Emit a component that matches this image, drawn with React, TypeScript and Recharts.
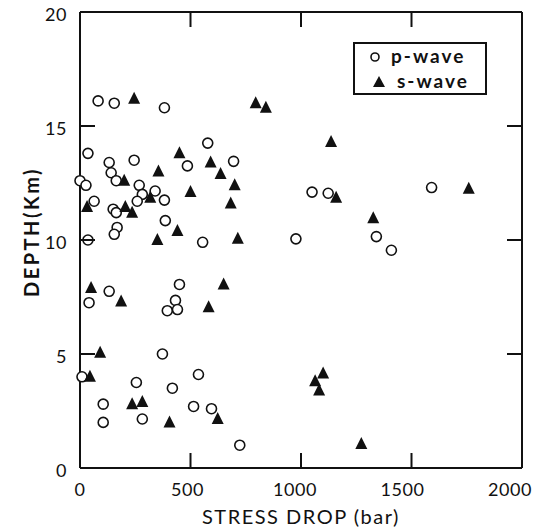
import { ScatterChart, Scatter, XAxis, YAxis, Legend, Label } from 'recharts';

// stress drop (bar) and depth (km)
const P_X = [82, 155, 382, 578, 36, 245, 132, 486, 695, 141, 0, 27, 164, 268, 282, 340, 382, 259, 64, 150, 164, 386, 168, 155, 36, 1050, 1123, 1591, 1341, 977, 1409, 555, 41, 132, 450, 432, 395, 441, 373, 9, 255, 536, 418, 105, 514, 595, 105, 282, 723];
const P_Y = [16.1, 16.0, 15.8, 14.25, 13.8, 13.5, 13.4, 13.25, 13.45, 12.95, 12.6, 12.4, 12.6, 12.4, 12.0, 12.15, 11.75, 11.7, 11.7, 11.35, 11.2, 10.85, 10.55, 10.25, 10.0, 12.1, 12.05, 12.3, 10.15, 10.05, 9.55, 9.9, 7.25, 7.75, 8.05, 7.35, 6.9, 6.95, 5.0, 4.0, 3.75, 4.1, 3.5, 2.8, 2.7, 2.6, 2.0, 2.15, 1.0];

const S_X = [245, 795, 841, 450, 591, 636, 355, 200, 700, 500, 318, 682, 32, 205, 236, 441, 350, 714, 1136, 1159, 1759, 1327, 1100, 1064, 1082, 1273, 50, 186, 582, 650, 91, 45, 236, 282, 405, 623];
const S_Y = [16.2, 16.0, 15.8, 13.8, 13.4, 12.9, 13.0, 12.6, 12.4, 12.1, 11.85, 11.6, 11.45, 11.45, 11.2, 10.4, 10.0, 10.05, 14.3, 11.85, 12.25, 10.95, 4.15, 3.8, 3.4, 1.05, 7.9, 7.3, 7.05, 8.05, 5.05, 4.0, 2.8, 2.9, 2.0, 2.15];

const X_TICKS = [0, 500, 1000, 1500, 2000];
const Y_TICKS = [0, 5, 10, 15, 20];
const INNER_X = [500, 1000, 1500];
const INNER_Y = [5, 10, 15];
const X_DOMAIN = [0, 2000];
const Y_DOMAIN = [0, 20];

const pWave = P_X.map((x, i) => ({ x, y: P_Y[i] }));
const sWave = S_X.map((x, i) => ({ x, y: S_Y[i] }));

const INK = '#111';
const FONT = 'Lato, "DejaVu Sans", sans-serif';
const TICK_LEN = 15;

// labels in the scan sit a little left of their ticks, more so to the right
const BottomTick = ({ x, y, payload }: any) => (
  <g>
    {INNER_X.includes(payload.value) && (
      <line x1={x} y1={y} x2={x} y2={y - TICK_LEN} stroke={INK} strokeWidth={2} />
    )}
    <text
      x={x - (payload.value / 2000) * 12}
      y={y + 28}
      textAnchor="middle"
      fontSize={18}
      fontFamily={FONT}
      fill={INK}
      letterSpacing={0.5}
    >
      {payload.value}
    </text>
  </g>
);

const TopTick = ({ x, y }: any) => (
  <line x1={x} y1={y} x2={x} y2={y + TICK_LEN} stroke={INK} strokeWidth={2} />
);

const LeftTick = ({ x, y, payload }: any) => (
  <g>
    {INNER_Y.includes(payload.value) && (
      <line x1={x} y1={y} x2={x + TICK_LEN} y2={y} stroke={INK} strokeWidth={2} />
    )}
    <text x={x - 13} y={y + 3} dy="0.36em" textAnchor="end" fontSize={18} fontFamily={FONT} fill={INK} letterSpacing={0.5}>
      {payload.value}
    </text>
  </g>
);

const RightTick = ({ x, y }: any) => (
  <line x1={x} y1={y} x2={x - TICK_LEN} y2={y} stroke={INK} strokeWidth={2} />
);

const Ring = ({ cx, cy }: any) => (
  <circle cx={cx} cy={cy} r={5} fill="#fff" stroke={INK} strokeWidth={1.6} />
);

const Tri = ({ cx, cy }: any) => (
  <polygon points={`${cx},${cy - 7} ${cx + 6},${cy + 5} ${cx - 6},${cy + 5}`} fill={INK} />
);

const LegendBox = () => (
  <svg width={134} height={53}>
    <rect x={1} y={1} width={132} height={51} fill="#fff" stroke={INK} strokeWidth={2} />
    <circle cx={22} cy={15} r={4} fill="#fff" stroke={INK} strokeWidth={1.6} />
    <text x={38} y={21} fontSize={19} fontWeight="bold" fontFamily={FONT} fill={INK} letterSpacing={2}>p-wave</text>
    <polygon points="26,34 32,45 20,45" fill={INK} />
    <text x={44} y={46} fontSize={19} fontWeight="bold" fontFamily={FONT} fill={INK} letterSpacing={2}>s-wave</text>
  </svg>
);

const DepthLabel = ({ viewBox }: any) => {
  const x = viewBox.x + 12;
  const y = viewBox.y + viewBox.height / 2 - 8;
  return (
    <text
      x={x}
      y={y}
      transform={`rotate(-90 ${x} ${y})`}
      textAnchor="middle"
      dy="0.36em"
      fontSize={20}
      fontWeight="bold"
      fontFamily={FONT}
      fill={INK}
      letterSpacing={2.5}
    >
      DEPTH(Km)
    </text>
  );
};

export default function App() {
  return (
    <div style={{ position: 'absolute', left: 0, top: 0, width: 542, height: 528, background: '#fff' }}>
      <ScatterChart width={542} height={528} margin={{ top: 11, right: 19, bottom: 0, left: 20 }}>
        <XAxis
          xAxisId="b"
          type="number"
          dataKey="x"
          domain={X_DOMAIN}
          ticks={X_TICKS}
          interval={0}
          height={60}
          axisLine={{ stroke: INK, strokeWidth: 2 }}
          tickLine={false}
          tickSize={0}
          tickMargin={0}
          tick={<BottomTick />}
        >
          <Label
            value="STRESS DROP (bar)"
            position="insideBottom"
            offset={4}
            style={{ fontSize: 20, fontFamily: FONT, fill: INK, letterSpacing: 1.5 }}
          />
        </XAxis>
        {/* top and right axes share the same domains; they only carry the frame and inner ticks */}
        <XAxis
          xAxisId="t"
          orientation="top"
          type="number"
          dataKey="x"
          domain={X_DOMAIN}
          ticks={INNER_X}
          interval={0}
          height={1}
          axisLine={{ stroke: INK, strokeWidth: 2 }}
          tickLine={false}
          tickSize={0}
          tickMargin={0}
          tick={<TopTick />}
        />
        <YAxis
          yAxisId="l"
          type="number"
          dataKey="y"
          domain={Y_DOMAIN}
          ticks={Y_TICKS}
          interval={0}
          width={60}
          axisLine={{ stroke: INK, strokeWidth: 2 }}
          tickLine={false}
          tickSize={0}
          tickMargin={0}
          tick={<LeftTick />}
        >
          <Label content={<DepthLabel />} position="insideLeft" />
        </YAxis>
        <YAxis
          yAxisId="r"
          orientation="right"
          type="number"
          dataKey="y"
          domain={Y_DOMAIN}
          ticks={INNER_Y}
          interval={0}
          width={1}
          axisLine={{ stroke: INK, strokeWidth: 2 }}
          tickLine={false}
          tickSize={0}
          tickMargin={0}
          tick={<RightTick />}
        />
        <Legend
          layout="horizontal"
          verticalAlign="middle"
          content={<LegendBox />}
          wrapperStyle={{ position: 'absolute', left: 353, top: 42, width: 134, height: 53 }}
        />
        <Scatter name="p-wave" data={pWave} xAxisId="b" yAxisId="l" shape={<Ring />} isAnimationActive={false} />
        <Scatter name="s-wave" data={sWave} xAxisId="t" yAxisId="r" shape={<Tri />} isAnimationActive={false} />
      </ScatterChart>
    </div>
  );
}
